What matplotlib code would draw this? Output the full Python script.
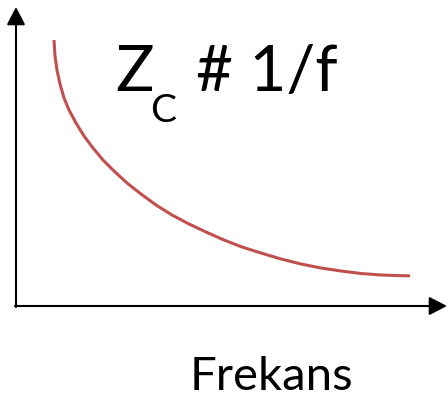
import matplotlib
matplotlib.use("Agg")
import matplotlib.pyplot as plt

# Impedance of a capacitor versus frequency (arbitrary units)
frequency = [38, 39, 41, 44, 48, 53, 60, 68, 77, 87, 98, 111, 125, 140, 156, 173, 190,
             208, 226, 245, 265, 285, 305, 325, 345, 365, 385, 394]
impedance = [266, 250, 236, 222, 208, 196, 183, 170, 158, 146, 135, 123, 112, 101, 91, 82, 74,
             66, 59, 53, 47, 42, 38, 35, 32.5, 31, 30.3, 30.2]

title_main = "Z"
title_sub = "C"
title_rest = "# 1/f"
x_label = "Frekans"

W, H = 448, 399
fig = plt.figure(figsize=(W / 100, H / 100), dpi=100)
ax = fig.add_axes([0, 0, 1, 1])
ax.set_xlim(-16, W - 16)
ax.set_ylim(306 - H, 306)
ax.axis("off")

arrow_kw = dict(arrowstyle="-|>,head_length=1.08,head_width=0.56",
                mutation_scale=10, color="black", lw=1.5,
                shrinkA=0, shrinkB=0)
ax.annotate("", xy=(431, 0), xytext=(-1, 0), arrowprops=arrow_kw)
ax.annotate("", xy=(0, 299), xytext=(0, -1), arrowprops=arrow_kw)

ax.plot(frequency, impedance, color="#C0504D", lw=2.2, solid_capstyle="butt",
        solid_joinstyle="round")

font = "Lato"
def px(x, y):
    return x / W, 1 - y / H

fig.text(*px(115, 91), title_main, fontsize=46, family=font, ha="left", va="baseline")
fig.text(*px(150, 122), title_sub, fontsize=28, family=font, ha="left", va="baseline")
fig.text(*px(196, 91), title_rest, fontsize=46, family=font, ha="left", va="baseline")
fig.text(*px(190, 390), x_label, fontsize=34, family=font, ha="left", va="baseline")

fig.savefig("out.png", dpi=100)
